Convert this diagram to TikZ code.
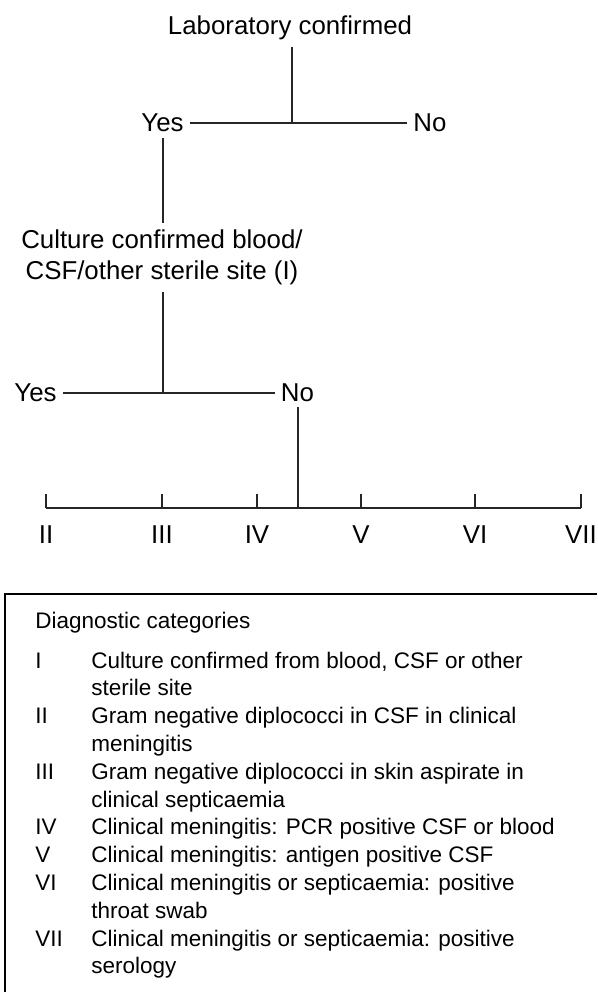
\documentclass[tikz,border=0pt]{standalone}
\usepackage{fontspec}
\setmainfont{Liberation Sans}
\usetikzlibrary{positioning,calc}
\tikzset{
  lbl/.style={font=\fontsize{14.7}{18.2}\selectfont,align=center,anchor=base},
  cat/.style={font=\fontsize{12.8}{15.8}\selectfont,align=left,anchor=base west,inner sep=0pt},
  branch/.style={draw=black!85,line width=0.6pt},
  frame/.style={draw=black,line width=0.7pt}
}

\begin{document}
\begin{tikzpicture}
  \useasboundingbox (0,0) rectangle (11.94,-19.84);
  % decision tree (two-line nodes sit on their last baseline)
  \node[lbl] (lab) at (5.80,-0.70) {Laboratory confirmed};
  \node[lbl] (labyes) at (3.25,-2.64) {Yes};
  \node[lbl] (labno) at (8.60,-2.64) {No};
  \node[lbl] (culture) at (3.24,-5.60) {Culture confirmed blood/\\CSF/other sterile site (I)};
  \node[lbl] (culyes) at (0.71,-8.02) {Yes};
  \node[lbl] (culno) at (5.95,-8.02) {No};
  \coordinate (labjoin) at (5.84,-2.46);
  \coordinate (culjoin) at (3.26,-7.86);
  \coordinate (split) at (5.96,-10.16);
  \draw[branch] (labjoin |- lab.south) -- (labjoin);
  \draw[branch] (labyes.east |- labjoin) -- (labno.west |- labjoin);
  \draw[branch] (culjoin |- labyes.south) -- (culjoin |- culture.north);
  \draw[branch] (culjoin |- culture.south) -- (culjoin);
  \draw[branch] (culyes.east |- culjoin) -- (culno.west |- culjoin);
  \draw[branch] (split |- culno.south) -- (split);

  % categories II-VII along the bar
  \foreach \c/\x in {II/0.92,III/3.24,IV/5.14,V/7.22,VI/9.50,VII/11.62}{
    \node[lbl] (r\c) at (\x,-10.86) {\c};
    \draw[branch] (r\c |- split) -- ++(0,0.28);
  }
  \draw[branch] (rII |- split) -- (rVII |- split);

  % key box
  \draw[frame] (11.94,-11.88) -- (0.10,-11.88) -- (0.10,-19.84);
  \node[cat] (keytitle) at (0.70,-12.56) {Diagnostic categories};
  \foreach \num/\row/\last/\desc in {
      I/0/1/{Culture confirmed from blood, CSF or other\\sterile site},
      II/2/3/{Gram negative diplococci in CSF in clinical\\meningitis},
      III/4/5/{Gram negative diplococci in skin aspirate in\\clinical septicaemia},
      IV/6/6/{Clinical meningitis: PCR positive CSF or blood},
      V/7/7/{Clinical meningitis: antigen positive CSF},
      VI/8/9/{Clinical meningitis or septicaemia: positive\\throat swab},
      VII/10/11/{Clinical meningitis or septicaemia: positive\\serology}}{
    \node[cat] (num\num) at (0.70,{-13.36-0.556*\row}) {\num};
    \node[cat] (txt\num) at (1.82,{-13.36-0.556*\last}) {\desc};
  }
\end{tikzpicture}
\end{document}
